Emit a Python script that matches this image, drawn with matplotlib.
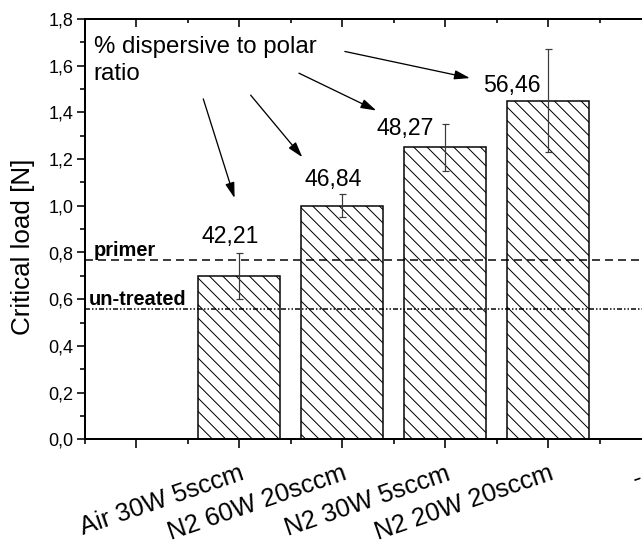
import matplotlib
matplotlib.use("Agg")
import matplotlib.pyplot as plt
from matplotlib.ticker import MultipleLocator, FuncFormatter

DPI = 80
W, H = 642, 547


def pt(px):
    return px * 72.0 / DPI


plt.rcParams['font.family'] = ['Liberation Sans', 'DejaVu Sans']
plt.rcParams['hatch.linewidth'] = pt(1.0)
plt.rcParams['lines.scale_dashes'] = False

# ---------------- data ----------------
tick_positions = [0, 1, 2, 3, 4, 5]
tick_labels = ["", "Air 30W 5sccm", "N2 60W 20sccm", "N2 30W 5sccm", "N2 20W 20sccm", "-  "]
bar_positions = [1, 2, 3, 4]
critical_load = [0.70, 1.00, 1.25, 1.45]
load_error = [0.10, 0.05, 0.10, 0.22]
ratio_labels = ["42,21", "46,84", "48,27", "56,46"]
ratio_label_x = [0.917, 1.917, 2.61, 3.651]
ratio_label_y = [0.842, 1.085, 1.304, 1.489]
primer_level = 0.77
untreated_level = 0.56
arrow_start = [(0.651, 1.458), (1.111, 1.474), (1.580, 1.568), (2.026, 1.661)]
arrow_end = [(0.955, 1.033), (1.613, 1.208), (2.331, 1.408), (3.240, 1.547)]

# ---------------- figure ----------------
fig = plt.figure(figsize=(W / DPI, H / DPI), dpi=DPI)
ax_left, ax_bottom = 84.7, 547 - 439.3
ax_w, ax_h = 566.5, 420.3
ax = fig.add_axes([ax_left / W, ax_bottom / H, ax_w / W, ax_h / H])

ax.bar(bar_positions, critical_load, width=0.8, color='white', edgecolor='black',
       linewidth=pt(1.5), hatch='\\\\', zorder=2)
ax.errorbar(bar_positions, critical_load, yerr=load_error, fmt='none', ecolor='#3a3a3a',
            elinewidth=pt(1.2), capsize=pt(3.5), capthick=pt(1.2), zorder=4)

ax.axhline(primer_level, color='black', lw=pt(1.5), ls=(0, (pt(8), pt(5))), zorder=5)
ax.axhline(untreated_level, color='black', lw=pt(1.5),
           ls=(0, (pt(5), pt(2), pt(1.5), pt(2), pt(1.5), pt(2))), zorder=5)

ax.text(-0.417, 0.785, "primer", fontsize=pt(20), fontweight='bold', ha='left', va='baseline')
ax.text(-0.462, 0.575, "un-treated", fontsize=pt(20), fontweight='bold', ha='left', va='baseline')

for x, y, s in zip(ratio_label_x, ratio_label_y, ratio_labels):
    ax.text(x, y, s, fontsize=pt(23), ha='center', va='baseline')

ax.text(-0.413, 1.539, "% dispersive to polar\nratio", fontsize=pt(24), ha='left',
        va='baseline', linespacing=1.3)

for s, e in zip(arrow_start, arrow_end):
    ax.annotate('', xy=e, xytext=s,
                arrowprops=dict(arrowstyle='-|>,head_length=1.0,head_width=0.3',
                                mutation_scale=pt(13), color='black', lw=pt(1.3),
                                shrinkA=0, shrinkB=0))

ax.set_xlim(-0.5, 5.0)
ax.set_ylim(0, 1.8)
ax.set_xticks(tick_positions)
ax.set_xticklabels(tick_labels, rotation=19, ha='right', va='top', rotation_mode='anchor',
                   fontsize=pt(25.5))
ax.xaxis.set_minor_locator(MultipleLocator(0.5))
ax.yaxis.set_major_locator(MultipleLocator(0.2))
ax.yaxis.set_minor_locator(MultipleLocator(0.1))
ax.yaxis.set_major_formatter(FuncFormatter(lambda v, _: f"{v:.1f}".replace('.', ',')))

for sp in ax.spines.values():
    sp.set_linewidth(pt(2))

ax.tick_params(axis='x', which='major', direction='out', length=pt(9), width=pt(1.6),
               pad=pt(13), top=False)
ax.tick_params(axis='x', which='minor', direction='out', length=pt(5), width=pt(1.6), top=False)
ax.tick_params(axis='y', which='major', direction='out', length=pt(8), width=pt(1.6),
               labelsize=pt(18), pad=pt(3), right=False)
ax.tick_params(axis='y', which='minor', direction='out', length=pt(5), width=pt(1.6), right=False)

top = ax.secondary_xaxis('top')
top.set_xticks(tick_positions)
top.xaxis.set_minor_locator(MultipleLocator(0.5))
top.tick_params(axis='x', which='major', direction='in', length=pt(8), width=pt(1.6),
                labeltop=False)
top.tick_params(axis='x', which='minor', direction='in', length=pt(4), width=pt(1.6))
top.spines['top'].set_linewidth(pt(2))

right = ax.secondary_yaxis('right')
right.yaxis.set_major_locator(MultipleLocator(0.2))
right.yaxis.set_minor_locator(MultipleLocator(0.1))
right.tick_params(axis='y', which='major', direction='in', length=pt(9), width=pt(1.6),
                  labelright=False)
right.tick_params(axis='y', which='minor', direction='in', length=pt(5), width=pt(1.6))

fig.text(23 / W, 1 - 247 / H, "Critical load [N]", rotation=90, ha='center', va='center',
         fontsize=pt(26))

fig.savefig("out.png", dpi=DPI)
